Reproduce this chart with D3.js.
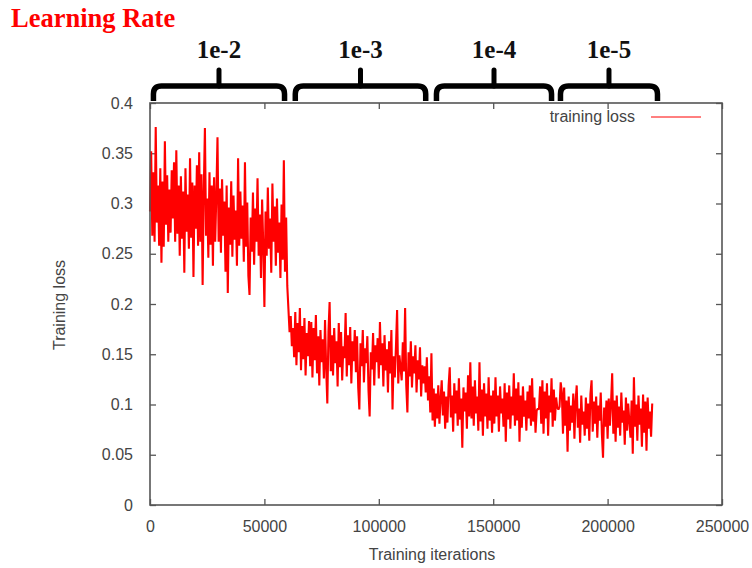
<!DOCTYPE html>
<html>
<head>
<meta charset="utf-8">
<script src="https://cdn.jsdelivr.net/npm/d3@7"></script>
<style>
  html, body { margin: 0; padding: 0; background: #fff; }
  svg { display: block; }
  .tick text { font-family: "Liberation Sans", Arial, sans-serif; font-size: 16px; fill: #444; }
  .axis-title { font-family: "Liberation Sans", Arial, sans-serif; font-size: 16px; fill: #444; }
</style>
</head>
<body>
<div id="chart"></div>
<script>
// Iteration spacing of the loss samples
const STEP = 500;

// Training loss, one value every STEP iterations
const lossPhase1 = [ // 0 - 59500, lr 1e-2
  0.292, 0.352, 0.268, 0.331, 0.262, 0.376, 0.281, 0.318, 0.258, 0.335, 0.241, 0.322, 0.257, 0.362, 0.279, 0.328, 0.262, 0.314, 0.271, 0.333,
  0.285, 0.341, 0.262, 0.353, 0.270, 0.318, 0.248, 0.327, 0.265, 0.312, 0.231, 0.335, 0.272, 0.309, 0.255, 0.345, 0.266, 0.321, 0.227, 0.318,
  0.275, 0.338, 0.258, 0.351, 0.262, 0.329, 0.219, 0.312, 0.375, 0.268, 0.305, 0.246, 0.331, 0.259, 0.318, 0.238, 0.326, 0.262, 0.309, 0.366,
  0.262, 0.315, 0.251, 0.324, 0.268, 0.302, 0.232, 0.318, 0.211, 0.296, 0.259, 0.322, 0.247, 0.308, 0.264, 0.293, 0.238, 0.345, 0.258, 0.312,
  0.265, 0.298, 0.242, 0.341, 0.257, 0.301, 0.228, 0.209, 0.286, 0.252, 0.311, 0.239, 0.295, 0.262, 0.325, 0.248, 0.289, 0.226, 0.304, 0.258,
  0.197, 0.292, 0.248, 0.316, 0.255, 0.285, 0.231, 0.320, 0.262, 0.297, 0.238, 0.305, 0.251, 0.281, 0.226, 0.299, 0.244, 0.343, 0.232, 0.286
];
const lossPhase2 = [ // 60000 - 119500, lr 1e-3
  0.218, 0.195, 0.172, 0.188, 0.158, 0.176, 0.147, 0.192, 0.139, 0.181, 0.152, 0.196, 0.134, 0.178, 0.145, 0.186, 0.129, 0.171, 0.148, 0.183,
  0.138, 0.182, 0.127, 0.176, 0.144, 0.189, 0.131, 0.168, 0.119, 0.174, 0.142, 0.165, 0.126, 0.184, 0.136, 0.101, 0.172, 0.202, 0.133, 0.169,
  0.129, 0.176, 0.141, 0.163, 0.118, 0.181, 0.137, 0.172, 0.124, 0.158, 0.146, 0.191, 0.128, 0.169, 0.139, 0.177, 0.121, 0.163, 0.143, 0.174,
  0.132, 0.168, 0.117, 0.095, 0.161, 0.138, 0.174, 0.122, 0.156, 0.141, 0.168, 0.114, 0.088, 0.152, 0.135, 0.171, 0.119, 0.159, 0.142, 0.166,
  0.126, 0.182, 0.139, 0.161, 0.118, 0.169, 0.134, 0.155, 0.112, 0.163, 0.131, 0.174, 0.095, 0.148, 0.127, 0.158, 0.194, 0.121, 0.149, 0.137,
  0.124, 0.162, 0.133, 0.196, 0.119, 0.092, 0.152, 0.128, 0.163, 0.117, 0.148, 0.131, 0.159, 0.112, 0.144, 0.125, 0.157, 0.108, 0.139, 0.121
];
const lossPhase3 = [ // 120000 - 169500, lr 1e-4
  0.138, 0.112, 0.147, 0.104, 0.128, 0.092, 0.151, 0.084, 0.116, 0.078, 0.111, 0.086, 0.119, 0.081, 0.106, 0.124, 0.089, 0.113, 0.076, 0.108,
  0.082, 0.118, 0.137, 0.087, 0.109, 0.073, 0.121, 0.091, 0.114, 0.079, 0.126, 0.085, 0.106, 0.057, 0.117, 0.093, 0.112, 0.076, 0.129, 0.088,
  0.142, 0.086, 0.118, 0.079, 0.124, 0.091, 0.108, 0.074, 0.142, 0.083, 0.115, 0.069, 0.121, 0.088, 0.111, 0.076, 0.127, 0.084, 0.109, 0.072,
  0.114, 0.081, 0.127, 0.088, 0.109, 0.073, 0.118, 0.091, 0.106, 0.078, 0.121, 0.063, 0.112, 0.085, 0.119, 0.076, 0.108, 0.089, 0.131, 0.079,
  0.116, 0.084, 0.122, 0.063, 0.109, 0.077, 0.118, 0.088, 0.104, 0.074, 0.113, 0.086, 0.119, 0.079, 0.126, 0.083, 0.107, 0.072, 0.094, 0.096
];
const lossPhase4 = [ // 170000 - 219500, lr 1e-4 / 1e-5
  0.095, 0.118, 0.081, 0.124, 0.071, 0.113, 0.086, 0.121, 0.069, 0.109, 0.092, 0.126, 0.078, 0.115, 0.084, 0.107, 0.097, 0.095, 0.098, 0.122,
  0.112, 0.071, 0.117, 0.079, 0.104, 0.053, 0.108, 0.074, 0.099, 0.082, 0.111, 0.066, 0.103, 0.119, 0.077, 0.096, 0.062, 0.109, 0.080, 0.093,
  0.069, 0.107, 0.076, 0.101, 0.064, 0.110, 0.124, 0.073, 0.103, 0.081, 0.108, 0.067, 0.099, 0.084, 0.112, 0.071, 0.047, 0.097, 0.078, 0.104,
  0.066, 0.106, 0.079, 0.101, 0.131, 0.071, 0.104, 0.063, 0.109, 0.077, 0.098, 0.069, 0.112, 0.082, 0.094, 0.060, 0.107, 0.074, 0.101, 0.083,
  0.067, 0.104, 0.051, 0.127, 0.078, 0.100, 0.064, 0.109, 0.080, 0.096, 0.058, 0.110, 0.072, 0.103, 0.054, 0.107, 0.076, 0.093, 0.068, 0.101
];

// Learning rate schedule shown as braces above the plot (iteration ranges)
const lrLabels = ["1e-2", "1e-3", "1e-4", "1e-5"];
const lrStart = [1500, 63500, 125200, 179400];
const lrEnd = [58800, 120500, 175500, 221800];

// Axis ticks
const xTicks = [0, 50000, 100000, 150000, 200000, 250000];
const yTicks = [0, 0.05, 0.1, 0.15, 0.2, 0.25, 0.3, 0.35, 0.4];

const width = 752, height = 568;
const margin = { top: 103, right: 30, bottom: 63, left: 150 };
const innerWidth = width - margin.left - margin.right;
const innerHeight = height - margin.top - margin.bottom;

const loss = [...lossPhase1, ...lossPhase2, ...lossPhase3, ...lossPhase4];
const series = loss.map((v, i) => ({ iter: i * STEP, loss: v }));

const svg = d3.select("#chart").append("svg")
  .attr("width", width)
  .attr("height", height);

const x = d3.scaleLinear().domain([0, 250000]).range([margin.left, margin.left + innerWidth]);
const y = d3.scaleLinear().domain([0, 0.4]).range([margin.top + innerHeight, margin.top]);

// Title
svg.append("text")
  .attr("x", 11)
  .attr("y", 27)
  .attr("font-family", "'Liberation Serif', 'Times New Roman', serif")
  .attr("font-weight", "bold")
  .attr("font-size", 26.5)
  .attr("fill", "#ff0000")
  .text("Learning Rate");

// Braces for each learning rate phase
const braceMid = 86, braceTop = 68, braceEnd = 101, r = 8;
const braces = svg.append("g");
lrLabels.forEach((label, i) => {
  const x0 = x(lrStart[i]), x1 = x(lrEnd[i]), xm = (x0 + x1) / 2;
  braces.append("path")
    .attr("d", `M${x0},${braceEnd} L${x0},${braceMid + r} Q${x0},${braceMid} ${x0 + r},${braceMid} L${x1 - r},${braceMid} Q${x1},${braceMid} ${x1},${braceMid + r} L${x1},${braceEnd}`)
    .attr("fill", "none")
    .attr("stroke", "#000")
    .attr("stroke-width", 5.5);
  braces.append("path")
    .attr("d", `M${xm},${braceMid} L${xm},${braceTop + 2}`)
    .attr("stroke", "#000")
    .attr("stroke-width", 5)
    .attr("stroke-linecap", "round");
  braces.append("text")
    .attr("x", xm)
    .attr("y", 58)
    .attr("text-anchor", "middle")
    .attr("font-family", "'Liberation Serif', 'Times New Roman', serif")
    .attr("font-weight", "bold")
    .attr("font-size", 25)
    .attr("fill", "#111")
    .text(label);
});

// Axes with inward ticks on all four sides
const fmtY = (d) => String(+d.toFixed(2));
const tickLen = -6;

svg.append("g")
  .attr("transform", `translate(0,${margin.top + innerHeight})`)
  .call(d3.axisBottom(x).tickValues(xTicks).tickFormat(d3.format("d")).tickSizeInner(tickLen).tickSizeOuter(0).tickPadding(16))
  .call((g) => g.select(".domain").remove());

svg.append("g")
  .attr("transform", `translate(${margin.left},0)`)
  .call(d3.axisLeft(y).tickValues(yTicks).tickFormat(fmtY).tickSizeInner(tickLen).tickSizeOuter(0).tickPadding(17))
  .call((g) => g.select(".domain").remove());

svg.append("g")
  .attr("transform", `translate(0,${margin.top})`)
  .call(d3.axisTop(x).tickValues(xTicks).tickFormat("").tickSizeInner(tickLen).tickSizeOuter(0))
  .call((g) => g.select(".domain").remove());

svg.append("g")
  .attr("transform", `translate(${margin.left + innerWidth},0)`)
  .call(d3.axisRight(y).tickValues(yTicks).tickFormat("").tickSizeInner(tickLen).tickSizeOuter(0))
  .call((g) => g.select(".domain").remove());

svg.selectAll(".tick line").attr("stroke", "#555").attr("stroke-width", 1.3);

// Loss curve, thick enough that the dense oscillation reads as a solid band
const line = d3.line().x((d) => x(d.iter)).y((d) => y(d.loss));
svg.append("path")
  .datum(series)
  .attr("d", line)
  .attr("fill", "none")
  .attr("stroke", "#ff0000")
  .attr("stroke-width", 2.1)
  .attr("stroke-linejoin", "bevel");

// Plot frame
svg.append("rect")
  .attr("x", margin.left)
  .attr("y", margin.top)
  .attr("width", innerWidth)
  .attr("height", innerHeight)
  .attr("fill", "none")
  .attr("stroke", "#555")
  .attr("stroke-width", 1.6);

// Legend
svg.append("text")
  .attr("class", "axis-title")
  .attr("x", 635)
  .attr("y", 122)
  .attr("text-anchor", "end")
  .text("training loss");
svg.append("line")
  .attr("x1", 651).attr("x2", 701)
  .attr("y1", 117).attr("y2", 117)
  .attr("stroke", "#ff0000")
  .attr("stroke-width", 1);

// Axis titles
svg.append("text")
  .attr("class", "axis-title")
  .attr("x", margin.left + innerWidth / 2 - 4)
  .attr("y", 560)
  .attr("text-anchor", "middle")
  .text("Training iterations");

svg.append("text")
  .attr("class", "axis-title")
  .attr("transform", "translate(65,305) rotate(-90)")
  .attr("text-anchor", "middle")
  .text("Training loss");
</script>
</body>
</html>
